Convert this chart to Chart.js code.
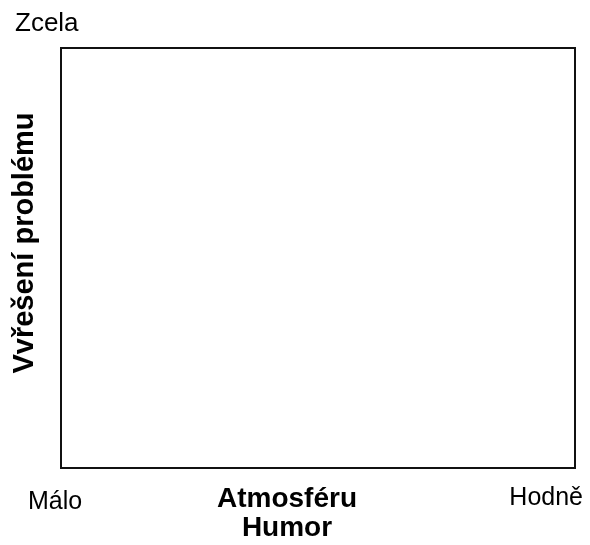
<!DOCTYPE html>
<html>
<head>
<meta charset="utf-8">
<script src="https://cdn.jsdelivr.net/npm/chart.js@4"></script>
<style>
    body { margin: 0; background: #fff; }
    #chart { display: block; }
</style>
</head>
<body>
<canvas id="chart" width="590" height="545"></canvas>
<script>
// Chart data
const points = [];                       // no marks are plotted in the frame
const xTickLabels = ['Málo', 'Hodně'];   // low / high end of x axis
const yTickLabels = ['Zcela'];           // top end of y axis
const xTitle = ['Atmosféru', 'Humor'];
const yTitle = 'Vvřešení problému';

const FONT = '"Liberation Sans", Arial, sans-serif';

// Frame and axis labels drawn around the chart area
const framePlugin = {
    id: 'frame',
    afterDraw(chart) {
        const ctx = chart.ctx;
        const a = chart.chartArea;
        ctx.save();

        // box
        ctx.strokeStyle = '#111';
        ctx.lineWidth = 2;
        ctx.strokeRect(a.left, a.top, a.right - a.left, a.bottom - a.top);

        ctx.fillStyle = '#000';
        ctx.textBaseline = 'alphabetic';

        // end labels
        ctx.textAlign = 'left';
        ctx.font = '26px ' + FONT;
        ctx.fillText(yTickLabels[0], a.left - 46, a.top - 17);
        ctx.font = '25px ' + FONT;
        ctx.fillText(xTickLabels[0], a.left - 33, a.bottom + 41);
        ctx.textAlign = 'right';
        ctx.fillText(xTickLabels[1], a.right + 8, a.bottom + 37);

        // x title (two lines)
        ctx.font = 'bold 28px ' + FONT;
        ctx.textAlign = 'center';
        const cx = a.left + 226;
        xTitle.forEach((line, i) => {
            ctx.fillText(line, cx, a.bottom + 39 + i * 29);
        });

        // y title (rotated)
        ctx.font = 'bold 29px ' + FONT;
        ctx.translate(a.left - 28, a.top + 195);
        ctx.rotate(-Math.PI / 2);
        ctx.fillText(yTitle, 0, 0);

        ctx.restore();
    }
};

const ctx = document.getElementById('chart').getContext('2d');
new Chart(ctx, {
    type: 'scatter',
    data: {
        datasets: [{
            data: points,
            pointRadius: 0
        }]
    },
    options: {
        responsive: false,
        animation: false,
        layout: {
            padding: { left: 61, top: 48, right: 15, bottom: 77 }
        },
        plugins: {
            legend: { display: false },
            tooltip: { enabled: false }
        },
        scales: {
            x: { display: false, min: 0, max: 1 },
            y: { display: false, min: 0, max: 1 }
        }
    },
    plugins: [framePlugin]
});
</script>
</body>
</html>
